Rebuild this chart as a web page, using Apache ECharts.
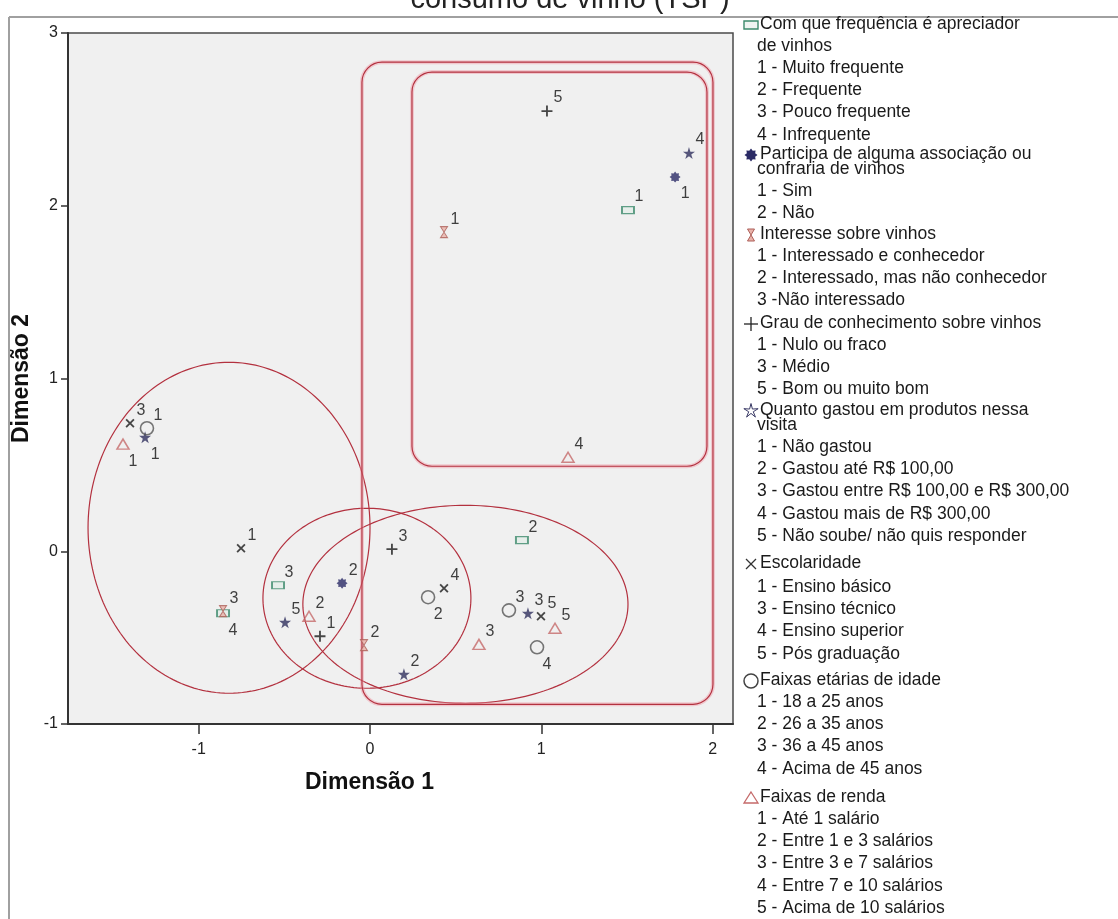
<!DOCTYPE html>
<html>
<head>
<meta charset="utf-8">
<script src="https://cdn.jsdelivr.net/npm/echarts@6.0.0/dist/echarts.min.js"></script>
<style>
  html, body { margin: 0; padding: 0; background: #ffffff; }
  #chart { width: 1118px; height: 919px; }
</style>
</head>
<body>
<div id="chart"></div>
<script>
// ---- Axis ticks ----
const xTicks = [-1, 0, 1, 2];
const yTicks = [-1, 0, 1, 2, 3];

// ---- Category quantifications (Dimensão 1, Dimensão 2) per variable ----
const frequenciaCodes = ['1', '2', '3', '4'];
const frequenciaPoints = [[1.506, 1.975], [0.887, 0.064], [-0.537, -0.197], [-0.858, -0.359]];

const participaCodes = ['1', '2'];
const participaPoints = [[1.781, 2.166], [-0.163, -0.185]];

const interesseCodes = ['1', '2', '3'];
const interessePoints = [[0.432, 1.847], [-0.035, -0.544], [-0.858, -0.347]];

const grauCodes = ['1', '3', '5'];
const grauPoints = [[-0.292, -0.492], [0.128, 0.012], [1.033, 2.548]];

const gastouCodes = ['1', '2', '3', '4', '5'];
const gastouPoints = [[-1.313, 0.660], [0.198, -0.712], [0.922, -0.359], [1.862, 2.305], [-0.496, -0.411]];

const escolaridadeCodes = ['1', '3', '4', '5'];
const escolaridadePoints = [[-0.753, 0.017], [-1.401, 0.741], [0.432, -0.214], [0.998, -0.376]];

const idadeCodes = ['1', '2', '3', '4'];
const idadePoints = [[-1.302, 0.712], [0.339, -0.266], [0.811, -0.342], [0.975, -0.556]];

const rendaCodes = ['1', '2', '3', '4', '5'];
const rendaPoints = [[-1.442, 0.620], [-0.356, -0.376], [0.636, -0.539], [1.156, 0.544], [1.080, -0.446]];

// ---- Grouping outlines (data units): ellipses [cx, cy, rx, ry], boxes [x0, yBottom, x1, yTop] ----
const groupEllipses = [
  [-0.823, 0.136, 0.823, 0.958],
  [-0.018, -0.272, 0.607, 0.521],
  [0.557, -0.307, 0.949, 0.573]
];
const groupBoxes = [
  [-0.047, -0.886, 2.002, 2.831],
  [0.245, 0.492, 1.967, 2.774]
];

// ---- Legend texts ----
const legendGroups = [
  { key: 'frequencia', title: ['Com que frequência é apreciador', 'de vinhos'],
    items: ['1 - Muito frequente', '2 - Frequente', '3 - Pouco frequente', '4 - Infrequente'] },
  { key: 'participa', title: ['Participa de alguma associação ou', 'confraria de vinhos'],
    items: ['1 - Sim', '2 - Não'] },
  { key: 'interesse', title: ['Interesse sobre vinhos'],
    items: ['1 - Interessado e conhecedor', '2 - Interessado, mas não conhecedor', '3 -Não interessado'] },
  { key: 'grau', title: ['Grau de conhecimento sobre vinhos'],
    items: ['1 - Nulo ou fraco', '3 - Médio', '5 - Bom ou muito bom'] },
  { key: 'gastou', title: ['Quanto gastou em produtos nessa', 'visita'],
    items: ['1 - Não gastou', '2 - Gastou até R$ 100,00', '3 - Gastou entre R$ 100,00 e R$ 300,00',
            '4 - Gastou mais de R$ 300,00', '5 - Não soube/ não quis responder'] },
  { key: 'escolaridade', title: ['Escolaridade'],
    items: ['1 - Ensino básico', '3 - Ensino técnico', '4 - Ensino superior', '5 - Pós graduação'] },
  { key: 'idade', title: ['Faixas etárias de idade'],
    items: ['1 - 18 a 25 anos', '2 - 26 a 35 anos', '3 - 36 a 45 anos', '4 - Acima de 45 anos'] },
  { key: 'renda', title: ['Faixas de renda'],
    items: ['1 - Até 1 salário', '2 - Entre 1 e 3 salários', '3 - Entre 3 e 7 salários',
            '4 - Entre 7 e 10 salários', '5 - Acima de 10 salários'] }
];

// ---- Styling ----
const FONT = '"Liberation Sans", Arial, sans-serif';
const RED = '#b3313f';
const LEGEND_FONT = '17.5px ' + FONT;

function starPoints(cx, cy, n, R, r) {
  const pts = [];
  for (let i = 0; i < 2 * n; i++) {
    const a = i * Math.PI / n;
    const rad = i % 2 ? r : R;
    pts.push([cx + rad * Math.sin(a), cy - rad * Math.cos(a)]);
  }
  return pts;
}
function toPath(pts) {
  return 'path://M' + pts.map(p => p[0].toFixed(2) + ',' + p[1].toFixed(2)).join('L') + 'Z';
}
const PLUS_PATH = 'path://M5,0H7V5H12V7H7V12H5V7H0V5H5Z';
const GEAR_PATH = toPath(starPoints(10, 10, 8, 10, 7));
const STAR_PATH = toPath(starPoints(10, 10, 5, 10, 3.8));
const HOURGLASS_PATH = 'path://M0,0L10,0L0,14L10,14Z';

const markerStyles = {
  frequencia:   { symbol: 'rect', symbolSize: [12, 7], itemStyle: { color: '#e3eee8', borderColor: '#3c8a6c', borderWidth: 1.5 } },
  participa:    { symbol: GEAR_PATH, symbolSize: 11, itemStyle: { color: '#2b2b66' } },
  interesse:    { symbol: HOURGLASS_PATH, symbolSize: [7, 11], itemStyle: { color: '#e9b3aa', borderColor: '#ad5e58', borderWidth: 1 } },
  grau:         { symbol: PLUS_PATH, symbolSize: 11, itemStyle: { color: '#1b1b1b' } },
  gastou:       { symbol: STAR_PATH, symbolSize: 12, itemStyle: { color: '#2f2f5e' } },
  escolaridade: { symbol: PLUS_PATH, symbolSize: 11, symbolRotate: 45, itemStyle: { color: '#1b1b1b' } },
  idade:        { symbol: 'circle', symbolSize: 13, itemStyle: { color: 'rgba(0,0,0,0)', borderColor: '#555555', borderWidth: 1.6 } },
  renda:        { symbol: 'triangle', symbolSize: [12, 10], itemStyle: { color: 'rgba(0,0,0,0)', borderColor: '#c56a6a', borderWidth: 1.5 } }
};

// Labels drawn below-right of the marker instead of above-right
const labelsBelow = {
  frequencia: ['4'], participa: ['1'], gastou: ['1'], idade: ['2', '4'], renda: ['1']
};

const variables = [
  { key: 'frequencia', codes: frequenciaCodes, points: frequenciaPoints },
  { key: 'participa', codes: participaCodes, points: participaPoints },
  { key: 'interesse', codes: interesseCodes, points: interessePoints },
  { key: 'grau', codes: grauCodes, points: grauPoints },
  { key: 'gastou', codes: gastouCodes, points: gastouPoints },
  { key: 'escolaridade', codes: escolaridadeCodes, points: escolaridadePoints },
  { key: 'idade', codes: idadeCodes, points: idadePoints },
  { key: 'renda', codes: rendaCodes, points: rendaPoints }
];

const scatterSeries = variables.map(v => {
  const below = labelsBelow[v.key] || [];
  return Object.assign({
    type: 'scatter',
    name: v.key,
    z: 5,
    data: v.points.map((p, i) => ({
      name: v.codes[i],
      value: p,
      label: { offset: below.indexOf(v.codes[i]) >= 0 ? [10, 17] : [11, -13] }
    })),
    label: {
      show: true, position: 'inside', formatter: '{b}',
      fontSize: 16, color: '#111111', fontFamily: FONT
    },
    emphasis: { disabled: true }
  }, markerStyles[v.key]);
});

function renderEllipse(params, api) {
  const c = api.coord([api.value(0), api.value(1)]);
  const s = api.size([api.value(2), api.value(3)]);
  const pts = [];
  for (let i = 0; i < 200; i++) {
    const t = i / 200 * Math.PI * 2;
    pts.push([c[0] + s[0] * Math.cos(t), c[1] + s[1] * Math.sin(t)]);
  }
  return { type: 'polygon', shape: { points: pts },
           style: { fill: 'none', stroke: RED, lineWidth: 1.2 } };
}

function renderBox(params, api) {
  const tl = api.coord([api.value(0), api.value(3)]);
  const br = api.coord([api.value(2), api.value(1)]);
  const mk = () => ({ x: tl[0], y: tl[1], width: br[0] - tl[0], height: br[1] - tl[1], r: 20 });
  return { type: 'group', children: [
    { type: 'rect', shape: mk(), style: { fill: 'none', stroke: 'rgba(240,150,165,0.45)', lineWidth: 4 } },
    { type: 'rect', shape: mk(), style: { fill: 'none', stroke: RED, lineWidth: 1.2 } }
  ] };
}

// ---- Legend drawn as graphic elements ----
function legendIcon(key, cx, cy) {
  switch (key) {
    case 'frequencia':
      return { type: 'rect', shape: { x: cx - 7, y: cy - 4, width: 14, height: 8 },
               style: { fill: '#eef4f1', stroke: '#3c8a6c', lineWidth: 1.4 } };
    case 'participa':
      return { type: 'polygon', shape: { points: starPoints(cx, cy, 8, 6.5, 4.5) }, style: { fill: '#2b2b66' } };
    case 'interesse':
      return { type: 'polygon', shape: { points: [[cx - 3.5, cy - 6], [cx + 3.5, cy - 6], [cx - 3.5, cy + 6], [cx + 3.5, cy + 6]] },
               style: { fill: '#e9b3aa', stroke: '#ad5e58', lineWidth: 1 } };
    case 'grau':
      return { type: 'group', children: [
        { type: 'line', shape: { x1: cx - 7, y1: cy, x2: cx + 7, y2: cy }, style: { stroke: '#222', lineWidth: 1.3 } },
        { type: 'line', shape: { x1: cx, y1: cy - 7, x2: cx, y2: cy + 7 }, style: { stroke: '#222', lineWidth: 1.3 } }
      ] };
    case 'gastou':
      return { type: 'polygon', shape: { points: starPoints(cx, cy, 5, 7.5, 2.4) },
               style: { fill: 'none', stroke: '#3a3a66', lineWidth: 1 } };
    case 'escolaridade':
      return { type: 'group', children: [
        { type: 'line', shape: { x1: cx - 5, y1: cy - 5, x2: cx + 5, y2: cy + 5 }, style: { stroke: '#333', lineWidth: 1.2 } },
        { type: 'line', shape: { x1: cx - 5, y1: cy + 5, x2: cx + 5, y2: cy - 5 }, style: { stroke: '#333', lineWidth: 1.2 } }
      ] };
    case 'idade':
      return { type: 'circle', shape: { cx: cx, cy: cy, r: 7 }, style: { fill: 'none', stroke: '#444', lineWidth: 1.5 } };
    case 'renda':
      return { type: 'polygon', shape: { points: [[cx, cy - 6], [cx + 7, cy + 5], [cx - 7, cy + 5]] },
               style: { fill: 'none', stroke: '#c56a6a', lineWidth: 1.3 } };
  }
  return null;
}

const headerY = [24, 154, 234, 323, 410, 563, 680, 797];
const legendElements = [];
legendGroups.forEach((g, gi) => {
  let y = headerY[gi];
  legendElements.push(legendIcon(g.key, 751, y + 1));
  g.title.forEach((line, li) => {
    if (li > 0) y += (gi === 0 ? 22 : 15);
    legendElements.push({ type: 'text', x: li === 0 ? 760 : 757, y: y,
      style: { text: line, font: LEGEND_FONT, fill: '#1a1a1a', textVerticalAlign: 'middle' } });
  });
  y += (g.key === 'escolaridade' ? 24 : 22);
  g.items.forEach((it, ii) => {
    legendElements.push({ type: 'text', x: 757, y: y + ii * 22.3,
      style: { text: it, font: LEGEND_FONT, fill: '#1a1a1a', textVerticalAlign: 'middle' } });
  });
});

const chart = echarts.init(document.getElementById('chart'), null, { renderer: 'canvas' });
chart.setOption({
  animation: false,
  backgroundColor: '#ffffff',
  grid: {
    left: 68, top: 33, right: 385, bottom: 195,
    show: true, backgroundColor: '#f0f0f0', borderColor: '#4a4a4a', borderWidth: 1.5
  },
  xAxis: {
    type: 'value', min: -1.763, max: 2.119,
    name: 'Dimensão 1', nameLocation: 'middle', nameGap: 47,
    nameTextStyle: { fontFamily: FONT, fontWeight: 'bold', fontSize: 23, color: '#111', padding: [0, 62, 0, 0] },
    axisLine: { show: true, onZero: false, lineStyle: { color: '#333', width: 2 } },
    axisTick: { show: true, customValues: xTicks, length: 10, lineStyle: { color: '#333', width: 1.5 } },
    axisLabel: { customValues: xTicks, margin: 18, fontSize: 16, color: '#222', fontFamily: FONT },
    splitLine: { show: false }
  },
  yAxis: {
    type: 'value', min: -1, max: 3, interval: 1,
    name: 'Dimensão 2', nameLocation: 'middle', nameGap: 34,
    nameTextStyle: { fontFamily: FONT, fontWeight: 'bold', fontSize: 23, color: '#111' },
    axisLine: { show: true, onZero: false, lineStyle: { color: '#333', width: 2 } },
    axisTick: { show: true, customValues: yTicks, length: 7, lineStyle: { color: '#333', width: 1.5 } },
    axisLabel: { customValues: yTicks, margin: 10, fontSize: 16, color: '#222', fontFamily: FONT },
    splitLine: { show: false }
  },
  graphic: [
    { type: 'text', x: 570, y: -15,
      style: { text: 'consumo de vinho (TSP)', font: '29px ' + FONT, fill: '#222', textAlign: 'center', textVerticalAlign: 'top' } },
    { type: 'line', shape: { x1: 9, y1: 17, x2: 1118, y2: 17 }, style: { stroke: '#a0a0a0', lineWidth: 2 } },
    { type: 'line', shape: { x1: 9, y1: 17, x2: 9, y2: 919 }, style: { stroke: '#a0a0a0', lineWidth: 2 } }
  ].concat(legendElements),
  series: [
    { type: 'custom', name: 'elipses', renderItem: renderEllipse, data: groupEllipses, z: 2, silent: true },
    { type: 'custom', name: 'caixas', renderItem: renderBox, data: groupBoxes, z: 2, silent: true }
  ].concat(scatterSeries)
});
</script>
</body>
</html>
